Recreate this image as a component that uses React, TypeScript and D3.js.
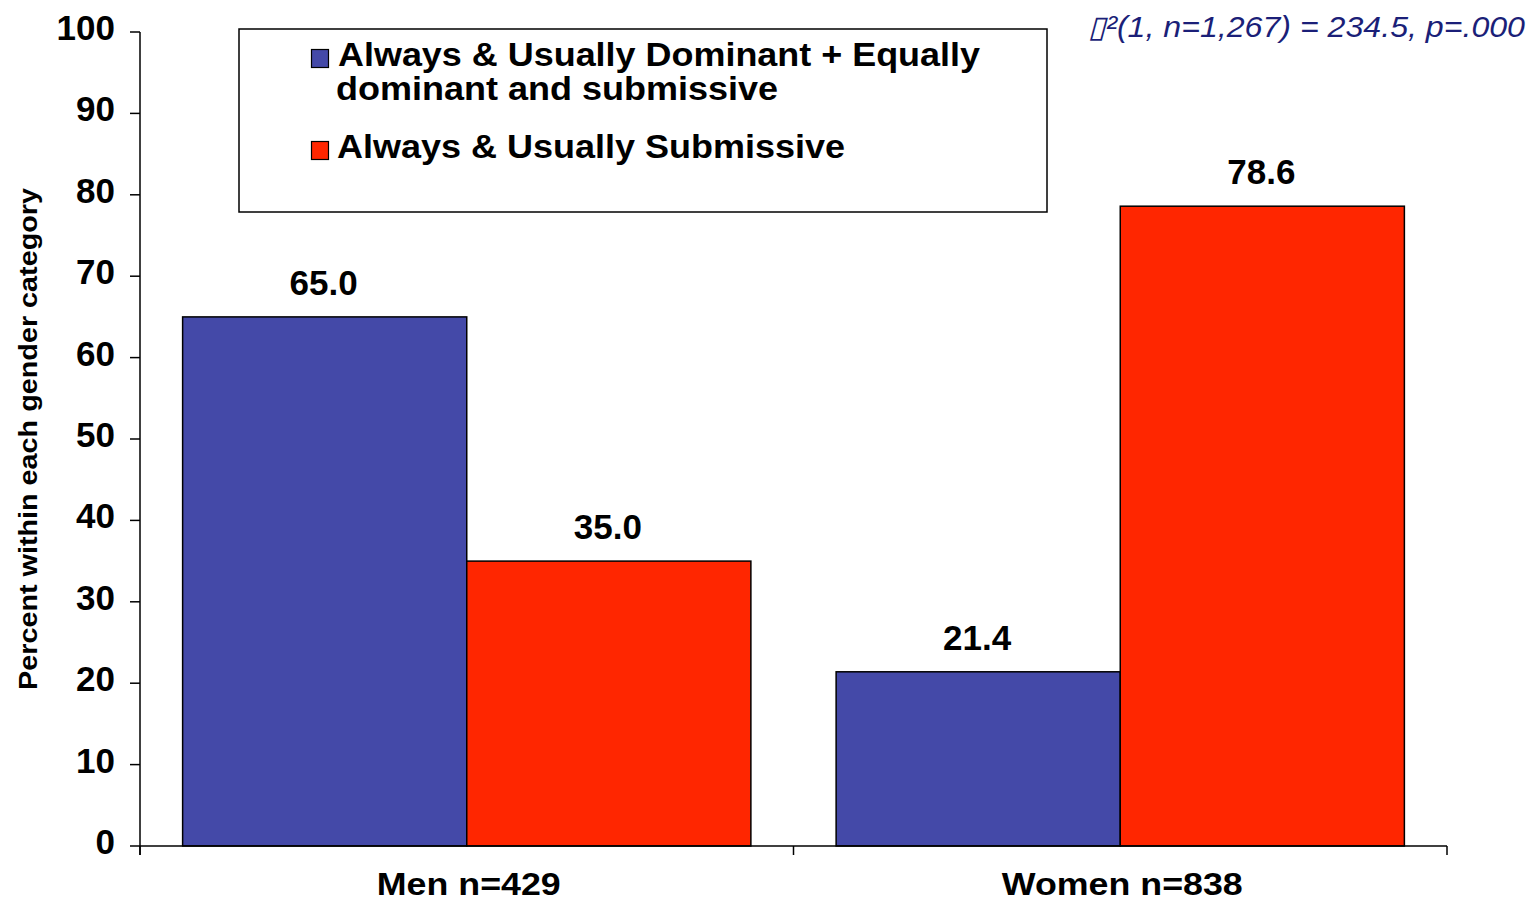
import React from "react";
import * as d3 from "d3";

const categories = ["Men n=429", "Women n=838"];
const seriesNames = [
  "Always & Usually Dominant + Equally dominant and submissive",
  "Always & Usually Submissive",
];
const dominantValues = [65.0, 21.4];
const submissiveValues = [35.0, 78.6];
const yTicks = [0, 10, 20, 30, 40, 50, 60, 70, 80, 90, 100];
const seriesColors = ["#4449A8", "#FF2600"];
const annotation = "\u25AF\u00B2(1, n=1,267) = 234.5, p=.000";
const yTitle = "Percent within each gender category";
const categoryLabelWidths = [184, 241];

export default function App() {
  const W = 1535;
  const H = 902;
  const left = 140;
  const right = 1447;
  const top = 32;
  const bottom = 846;
  const font = "'Liberation Sans', Arial, Helvetica, sans-serif";

  const x = d3.scaleBand<string>().domain(categories).range([left, right]).paddingInner(0).paddingOuter(0);
  const keys = ["dom", "sub"];
  const xs = d3.scaleBand<string>().domain(keys).range([0, x.bandwidth()]).paddingInner(0).paddingOuter(0.15);
  const y = d3.scaleLinear().domain([0, 100]).range([bottom, top]);

  const rows = categories.map((c, i) => ({ cat: c, dom: dominantValues[i], sub: submissiveValues[i] }));

  return (
    <svg width={W} height={H} style={{ position: "absolute", left: 0, top: 0, background: "#fff" }} fontFamily={font}>
      {/* bars */}
      {rows.map((r) =>
        keys.map((k, ki) => {
          const v = (r as any)[k] as number;
          const bx = (x(r.cat) as number) + (xs(k) as number);
          return (
            <g key={r.cat + k}>
              <rect
                x={bx}
                y={y(v)}
                width={xs.bandwidth()}
                height={bottom - y(v)}
                fill={seriesColors[ki]}
                stroke="#000"
                strokeWidth={1.5}
              />
              <text
                x={bx + xs.bandwidth() / 2 - 1}
                y={y(v) - 22}
                textAnchor="middle"
                fontSize={35}
                fontWeight="bold"
                fill="#000"
              >
                {v.toFixed(1)}
              </text>
            </g>
          );
        })
      )}

      {/* y axis */}
      <line x1={left} x2={left} y1={top} y2={bottom + 9} stroke="#000" strokeWidth={1.5} />
      {yTicks.map((t) => (
        <g key={t}>
          <line x1={left - 10} x2={left} y1={y(t)} y2={y(t)} stroke="#000" strokeWidth={1.5} />
          <text x={left - 25} y={y(t) + 8} textAnchor="end" fontSize={35} fontWeight="bold" fill="#000">
            {t}
          </text>
        </g>
      ))}

      {/* x axis */}
      <line x1={left} x2={right} y1={bottom} y2={bottom} stroke="#000" strokeWidth={1.5} />
      {[left, ...categories.map((c) => (x(c) as number) + x.bandwidth())].map((px, i) => (
        <line key={i} x1={px} x2={px} y1={bottom} y2={bottom + 9} stroke="#000" strokeWidth={1.5} />
      ))}
      {categories.map((c, i) => (
        <text
          key={c}
          x={(x(c) as number) + x.bandwidth() / 2 + 2}
          y={895}
          textAnchor="middle"
          fontSize={32}
          fontWeight="bold"
          fill="#000"
          textLength={categoryLabelWidths[i]}
          lengthAdjust="spacingAndGlyphs"
        >
          {c}
        </text>
      ))}

      {/* y title */}
      <text
        transform={`translate(37, 439) rotate(-90)`}
        textAnchor="middle"
        fontSize={26}
        fontWeight="bold"
        fill="#000"
        textLength={502}
        lengthAdjust="spacingAndGlyphs"
      >
        {yTitle}
      </text>

      {/* legend */}
      <rect x={239} y={29} width={808} height={183} fill="#fff" stroke="#000" strokeWidth={1.5} />
      <rect x={311.5} y={49.5} width={17} height={18} fill={seriesColors[0]} stroke="#000" strokeWidth={1.2} />
      <text x={338} y={66} fontSize={33} fontWeight="bold" fill="#000" textLength={642} lengthAdjust="spacingAndGlyphs">
        Always &amp; Usually Dominant + Equally
      </text>
      <text x={336} y={100} fontSize={33} fontWeight="bold" fill="#000" textLength={442} lengthAdjust="spacingAndGlyphs">
        dominant and submissive
      </text>
      <rect x={311.5} y={141.5} width={17} height={18} fill={seriesColors[1]} stroke="#000" strokeWidth={1.2} />
      <text x={337} y={158} fontSize={33} fontWeight="bold" fill="#000" textLength={508} lengthAdjust="spacingAndGlyphs">
        {seriesNames[1]}
      </text>

      {/* annotation */}
      <text
        x={1088}
        y={37}
        fontSize={30}
        fontStyle="italic"
        fill="#1b1f78"
        textLength={437}
        lengthAdjust="spacingAndGlyphs"
      >
        {annotation}
      </text>
    </svg>
  );
}
